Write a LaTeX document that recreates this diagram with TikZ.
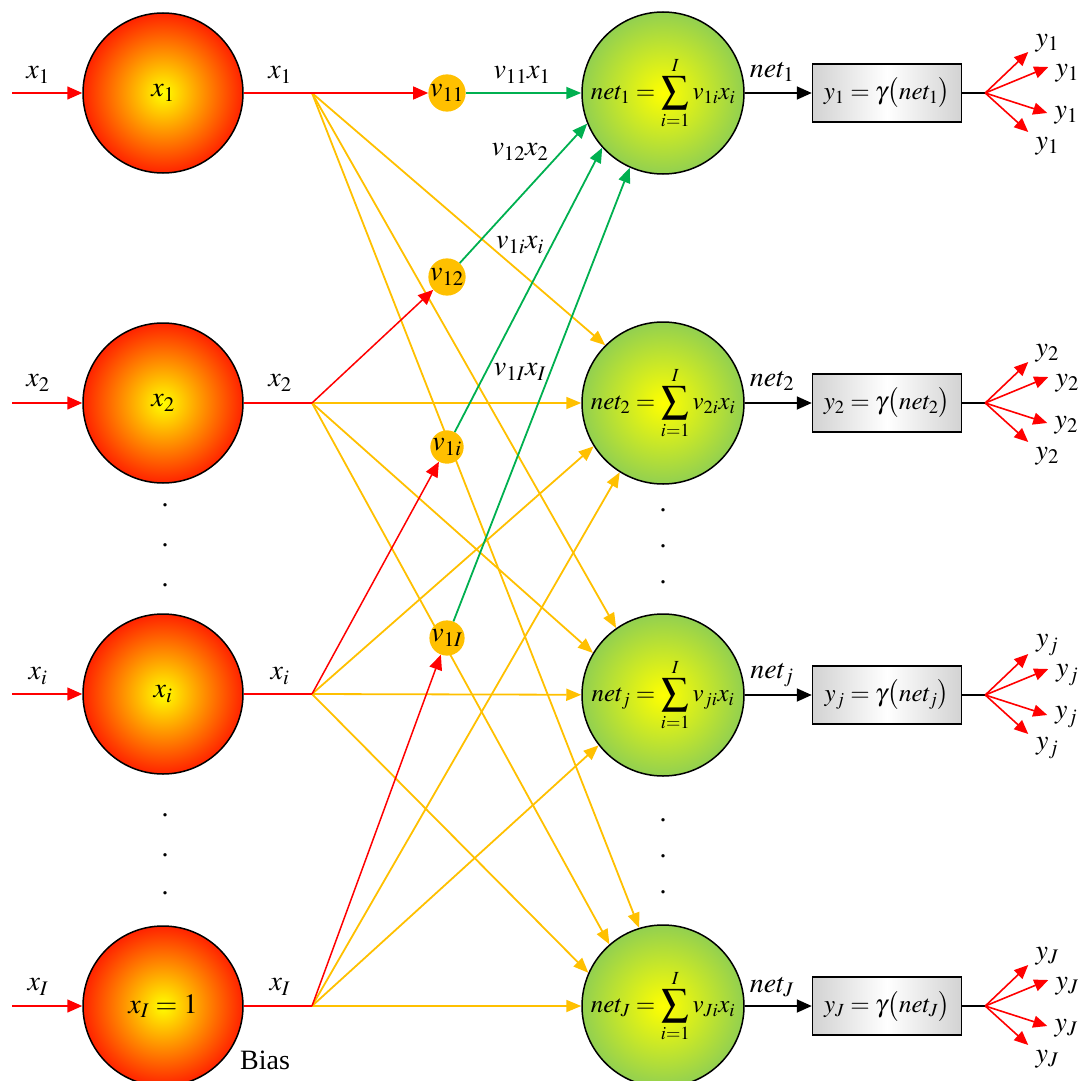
\documentclass[tikz,border=0pt]{standalone}
\usepackage{mathptmx}
\usepackage{fontspec}
\setmainfont{Liberation Serif}
\usetikzlibrary{arrows.meta,backgrounds,calc}
\definecolor{myred}{RGB}{255,0,0}
\definecolor{myyel}{RGB}{255,192,0}
\definecolor{mygreen}{RGB}{0,176,80}
\definecolor{leaf}{RGB}{146,208,80}
\definecolor{hot}{RGB}{255,35,0}
\newcommand\fsz{\fontsize{28}{32}\selectfont}
\newcommand\fsm{\fontsize{25}{30}\selectfont}
\newcommand\bigsum{\mathop{\vcenter{\hbox{\scalebox{1.55}{$\sum$}}}}\limits}
\tikzset{
  every node/.style={font=\fsz},
  inp/.style={circle, draw=black, line width=1.5pt, minimum size=160pt, inner sep=0pt, inner color=yellow, outer color=hot},
  sumn/.style={circle, draw=black, line width=1.5pt, minimum size=162pt, inner sep=0pt, inner color=yellow, outer color=leaf, font=\fsm},
  wnode/.style={circle, fill=myyel, minimum size=33pt, inner sep=0pt},
  actbox/.style={draw=black, line width=1.5pt, minimum width=149pt, minimum height=58pt, inner sep=2pt, left color=gray!35, right color=gray!35, middle color=white, font=\fsm},
  lbl/.style={inner sep=0pt},
  dotn/.style={inner sep=0pt},
  redln/.style={draw=myred, line width=1.5pt},
  redarr/.style={draw=myred, line width=1.5pt, -{Triangle[length=15pt,width=13pt]}},
  outarr/.style={draw=myred, line width=1.6pt, -{Triangle[length=14pt,width=12pt]}},
  yelarr/.style={draw=myyel, line width=1.8pt, -{Triangle[length=15pt,width=12pt]}},
  grnarr/.style={draw=mygreen, line width=1.8pt, -{Triangle[length=15pt,width=12pt]}},
  blkarr/.style={draw=black, line width=1.8pt, -{Triangle[length=15pt,width=13pt]}},
  blkln/.style={draw=black, line width=1.8pt},
}
\begin{document}
\begin{tikzpicture}[x=1pt,y=-1pt]
\useasboundingbox (0,0) rectangle (1077,1081);

% input neurons
\node[inp] (in1) at (163,93) {$x_1$};
\node[inp] (in2) at (163,403) {$x_2$};
\node[inp] (in3) at (163,694) {$x_i$};
\node[inp] (in4) at (163,1006) {$x_I=1$};

% input arrows
\coordinate (s1) at (12,93);
\coordinate (s2) at (12,403);
\coordinate (s3) at (12,694);
\coordinate (s4) at (12,1006);
\draw[redarr] (s1) -- (in1);
\draw[redarr] (s2) -- (in2);
\draw[redarr] (s3) -- (in3);
\draw[redarr] (s4) -- (in4);
\node[lbl] (ls1) at (38,75) {$x_1$};
\node[lbl] (ls2) at (38,383) {$x_2$};
\node[lbl] (ls3) at (38,676) {$x_i$};
\node[lbl] (ls4) at (38,987) {$x_I$};

% fan points
\coordinate (f1) at (312,93);
\coordinate (f2) at (312,403);
\coordinate (f3) at (312,694);
\coordinate (f4) at (312,1006);
\draw[redln] (in1) -- (f1);
\draw[redln] (in2) -- (f2);
\draw[redln] (in3) -- (f3);
\draw[redln] (in4) -- (f4);
\node[lbl] (lf1) at (280,75) {$x_1$};
\node[lbl] (lf2) at (280,383) {$x_2$};
\node[lbl] (lf3) at (280,676) {$x_i$};
\node[lbl] (lf4) at (280,987) {$x_I$};

% weight nodes
\node[wnode] (v1) at (447,93) {$v_{11}$};
\node[wnode] (v2) at (447,277) {$v_{12}$};
\node[wnode] (v3) at (447,447) {$v_{1i}$};
\node[wnode] (v4) at (447,638) {$v_{1I}$};

% summing neurons
\node[sumn] (n1) at (663,93) {$net_1=\bigsum_{i=1}^{I}v_{1i}x_i$};
\node[sumn] (n2) at (663,403) {$net_2=\bigsum_{i=1}^{I}v_{2i}x_i$};
\node[sumn] (n3) at (663,695) {$net_j=\bigsum_{i=1}^{I}v_{ji}x_i$};
\node[sumn] (n4) at (663,1006) {$net_J=\bigsum_{i=1}^{I}v_{Ji}x_i$};

% red to weights
\draw[redarr] (f1) -- (v1);
\draw[redarr] (f2) -- (v2);
\draw[redarr] (f3) -- (v3);
\draw[redarr] (f4) -- (v4);

% green to net1
\draw[grnarr] (v1) -- (n1);
\draw[grnarr] (v2) -- (n1.202);
\draw[grnarr] (v3) -- (n1.222);
\draw[grnarr] (v4) -- (n1.246);
\node[lbl] (g1) at (522,75) {$v_{11}x_1$};
\node[lbl] (g2) at (520,152) {$v_{12}x_2$};
\node[lbl] (g3) at (520,245) {$v_{1i}x_i$};
\node[lbl] (g4) at (520,372) {$v_{1I}x_I$};

% yellow direct connections (behind)
\begin{pgfonlayer}{background}
\draw[yelarr] (f1) -- (n2.135);
\draw[yelarr] (f1) -- (n3.125);
\draw[yelarr] (f1) -- (n4.107);
\draw[yelarr] (f2) -- (n2);
\draw[yelarr] (f2) -- (n3.149);
\draw[yelarr] (f2) -- (n4.131);
\draw[yelarr] (f3) -- (n2.212);
\draw[yelarr] (f3) -- (n3);
\draw[yelarr] (f3) -- (n4.156);
\draw[yelarr] (f4) -- (n2.238);
\draw[yelarr] (f4) -- (n3.218);
\draw[yelarr] (f4) -- (n4);
\end{pgfonlayer}

% activation boxes
\node[actbox] (b1) at (887,93) {$y_1=\gamma\bigl(net_1\bigr)$};
\node[actbox] (b2) at (887,403) {$y_2=\gamma\bigl(net_2\bigr)$};
\node[actbox] (b3) at (887,695) {$y_j=\gamma\bigl(net_j\bigr)$};
\node[actbox] (b4) at (887,1006) {$y_J=\gamma\bigl(net_J\bigr)$};
\draw[blkarr] (n1) -- (b1);
\draw[blkarr] (n2) -- (b2);
\draw[blkarr] (n3) -- (b3);
\draw[blkarr] (n4) -- (b4);
\node[lbl] (ln1) at (772,72) {$net_1$};
\node[lbl] (ln2) at (772,381) {$net_2$};
\node[lbl] (ln3) at (772,675) {$net_j$};
\node[lbl] (ln4) at (772,987) {$net_J$};

% outputs
\foreach \k/\s in {1/1,2/2,3/j,4/J}{
  \coordinate (o\k) at ($(b\k.east)+(23,0)$);
  \draw[blkln] (b\k) -- (o\k);
  \coordinate (t\k a) at ($(o\k)+(43,-41)$);
  \coordinate (t\k b) at ($(o\k)+(63,-26)$);
  \coordinate (t\k c) at ($(o\k)+(62,20)$);
  \coordinate (t\k d) at ($(o\k)+(43,39)$);
  \draw[outarr] (o\k) -- (t\k a);
  \draw[outarr] (o\k) -- (t\k b);
  \draw[outarr] (o\k) -- (t\k c);
  \draw[outarr] (o\k) -- (t\k d);
  \node[lbl] (y\k a) at ($(o\k)+(62,-50)$) {$y_{\s}$};
  \node[lbl] (y\k b) at ($(o\k)+(82,-20)$) {$y_{\s}$};
  \node[lbl] (y\k c) at ($(o\k)+(81,22)$) {$y_{\s}$};
  \node[lbl] (y\k d) at ($(o\k)+(62,53)$) {$y_{\s}$};
}

% vertical dots
\node[dotn] (dl1) at (165,505) {.};
\node[dotn] (dl2) at (165,545) {.};
\node[dotn] (dl3) at (165,585) {.};
\node[dotn] (dl4) at (165,815) {.};
\node[dotn] (dl5) at (165,855) {.};
\node[dotn] (dl6) at (165,893) {.};
\node[dotn] (dr1) at (663,510) {.};
\node[dotn] (dr2) at (663,546) {.};
\node[dotn] (dr3) at (663,582) {.};
\node[dotn] (dr4) at (663,820) {.};
\node[dotn] (dr5) at (663,856) {.};
\node[dotn] (dr6) at (663,892) {.};

\node[lbl] (bias) at (265,1060) {Bias};
\end{tikzpicture}
\end{document}
